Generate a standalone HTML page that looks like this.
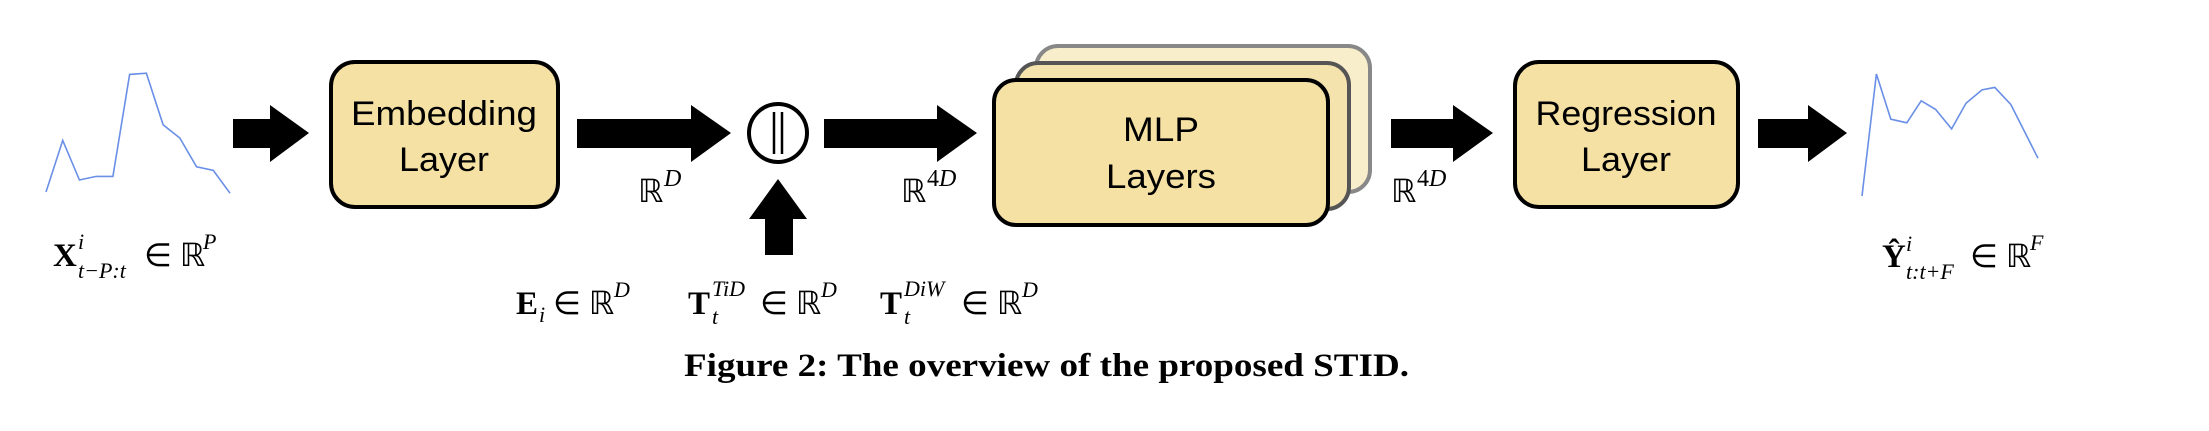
<!DOCTYPE html>
<html><head><meta charset="utf-8"><style>
html,body{margin:0;padding:0;background:#fff;}
svg{display:block;}
.m{font-family:"Liberation Serif",serif;}
.s{font-family:"Liberation Sans",sans-serif;}
</style></head><body>
<svg width="2209" height="431" viewBox="0 0 2209 431" xmlns="http://www.w3.org/2000/svg">
  <!-- input series -->
  <polyline id="inLine" fill="none" stroke="#6a8fe6" stroke-width="1.6"/>
  <polyline id="outLine" fill="none" stroke="#6a8fe6" stroke-width="1.6"/>

  <!-- arrows -->
  <polygon points="233,119 270,119 270,105 309,133 270,162 270,148 233,148" fill="#000"/>
  <polygon points="577,119 691,119 691,105 731,133 691,162 691,148 577,148" fill="#000"/>
  <polygon points="824,119 937,119 937,105 977,133 937,162 937,148 824,148" fill="#000"/>
  <polygon points="1391,119 1453,119 1453,105 1493,133 1453,162 1453,148 1391,148" fill="#000"/>
  <polygon points="1758,119 1808,119 1808,105 1847,133 1808,162 1808,148 1758,148" fill="#000"/>
  <polygon points="765,255 765,219 749,219 778,179 807,219 793,219 793,255" fill="#000"/>

  <!-- embedding box -->
  <rect x="331" y="62" width="227" height="145" rx="24" fill="#f5e1a4" stroke="#000" stroke-width="4"/>
  <text class="s" x="444" y="125" font-size="34" text-anchor="middle" textLength="186" lengthAdjust="spacingAndGlyphs">Embedding</text>
  <text class="s" x="444" y="171" font-size="34" text-anchor="middle" textLength="90" lengthAdjust="spacingAndGlyphs">Layer</text>

  <!-- concat circle -->
  <ellipse cx="778" cy="133" rx="29" ry="29" fill="#fff" stroke="#000" stroke-width="4"/>
  <line x1="774" y1="112" x2="774" y2="154" stroke="#000" stroke-width="2.5"/>
  <line x1="782" y1="112" x2="782" y2="154" stroke="#000" stroke-width="2.5"/>

  <!-- MLP stack -->
  <rect x="1036" y="46" width="334" height="146" rx="22" fill="#f9eecb" stroke="#888" stroke-width="4"/>
  <rect x="1016" y="63" width="333" height="146" rx="22" fill="#f5e3ae" stroke="#555" stroke-width="4"/>
  <rect x="994" y="80" width="334" height="145" rx="22" fill="#f5e1a4" stroke="#000" stroke-width="4"/>
  <text class="s" x="1161" y="141" font-size="34" text-anchor="middle" textLength="76" lengthAdjust="spacingAndGlyphs">MLP</text>
  <text class="s" x="1161" y="188" font-size="34" text-anchor="middle" textLength="110" lengthAdjust="spacingAndGlyphs">Layers</text>

  <!-- regression box -->
  <rect x="1515" y="62" width="223" height="145" rx="24" fill="#f5e1a4" stroke="#000" stroke-width="4"/>
  <text class="s" x="1626" y="125" font-size="34" text-anchor="middle" textLength="181" lengthAdjust="spacingAndGlyphs">Regression</text>
  <text class="s" x="1626" y="171" font-size="34" text-anchor="middle" textLength="90" lengthAdjust="spacingAndGlyphs">Layer</text>

  <!-- dimension labels -->
  <g class="m"><text x="638" y="202" font-size="32">ℝ</text><text x="664" y="186" font-size="24" font-style="italic">D</text></g>
  <g class="m"><text x="901" y="202" font-size="32">ℝ</text><text x="927" y="186" font-size="24" font-style="italic"><tspan font-style="normal">4</tspan>D</text></g>
  <g class="m"><text x="1391" y="202" font-size="32">ℝ</text><text x="1417" y="186" font-size="24" font-style="italic"><tspan font-style="normal">4</tspan>D</text></g>

  <!-- input label -->
  <g class="m">
    <text x="53" y="266" font-size="33" font-weight="bold">X</text>
    <text x="78" y="249" font-size="22" font-style="italic">i</text>
    <text x="78" y="278" font-size="22" font-style="italic">t−P:t</text>
    <text x="144" y="266" font-size="32">∈ ℝ</text>
    <text x="203" y="249" font-size="22" font-style="italic">P</text>
  </g>
  <!-- output label -->
  <g class="m">
    <text x="1882" y="267" font-size="33" font-weight="bold">Ŷ</text>
    <text x="1906" y="251" font-size="22" font-style="italic">i</text>
    <text x="1906" y="279" font-size="22" font-style="italic">t:t+F</text>
    <text x="1970" y="267" font-size="32">∈ ℝ</text>
    <text x="2030" y="250" font-size="22" font-style="italic">F</text>
  </g>
  <!-- embedding labels -->
  <g class="m">
    <text x="516" y="314" font-size="33" font-weight="bold">E</text>
    <text x="539" y="322" font-size="22" font-style="italic">i</text>
    <text x="553" y="314" font-size="32">∈ ℝ</text>
    <text x="614" y="297" font-size="22" font-style="italic">D</text>
  </g>
  <g class="m">
    <text x="688" y="314" font-size="33" font-weight="bold">T</text>
    <text x="712" y="296" font-size="22" font-style="italic">TiD</text>
    <text x="712" y="324" font-size="22" font-style="italic">t</text>
    <text x="760" y="314" font-size="32">∈ ℝ</text>
    <text x="821" y="297" font-size="22" font-style="italic">D</text>
  </g>
  <g class="m">
    <text x="880" y="314" font-size="33" font-weight="bold">T</text>
    <text x="904" y="296" font-size="22" font-style="italic">DiW</text>
    <text x="904" y="324" font-size="22" font-style="italic">t</text>
    <text x="961" y="314" font-size="32">∈ ℝ</text>
    <text x="1022" y="297" font-size="22" font-style="italic">D</text>
  </g>

  <text class="m" x="684" y="376" font-size="33" font-weight="bold" textLength="725" lengthAdjust="spacingAndGlyphs">Figure 2: The overview of the proposed STID.</text>
</svg>
<script>
// input series (time index, value in reference pixel units)
const inX = [0,1,2,3,4,5,6,7,8,9,10,11];
const inY = [0.0,0.43,0.1,0.13,0.13,0.98,0.99,0.56,0.45,0.21,0.18,-0.01];
const outX = [0,1,2,3,4,5,6,7,8,9,10,11];
const outY = [0.0,1.0,0.63,0.6,0.78,0.71,0.55,0.76,0.87,0.89,0.75,0.31];

function makeAxis(d0,d1,r0,r1){return v=>r0+(v-d0)/(d1-d0)*(r1-r0);}
const inXs = makeAxis(0,11,46,230), inYs = makeAxis(0,1,192,72);
const outXs = makeAxis(0,11,1862,2038), outYs = makeAxis(0,1,196,74);
const outXpos = [0,1,2,3,4,5,6,7,8,9,10,11];
// output series x spacing in the reference is uneven; use these index positions
const outXIdx = [0,0.9,1.8,2.8,3.7,4.6,5.6,6.5,7.5,8.3,9.3,11];
document.getElementById('inLine').setAttribute('points', inX.map((x,i)=>inXs(x)+','+inYs(inY[i])).join(' '));
document.getElementById('outLine').setAttribute('points', outXIdx.map((x,i)=>outXs(x)+','+outYs(outY[i])).join(' '));
</script>
</body></html>
